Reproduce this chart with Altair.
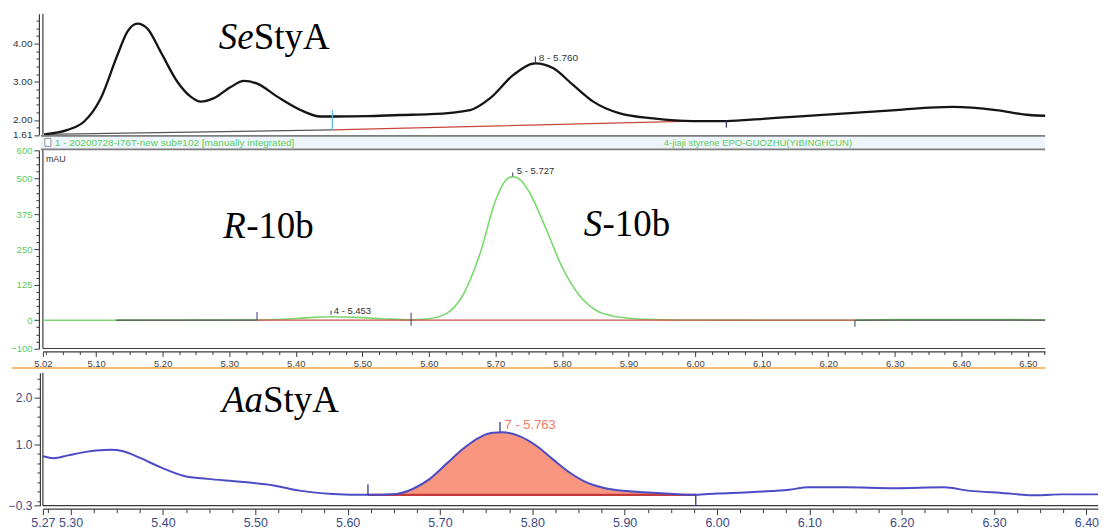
import altair as alt
import pandas as pd

# ---------------- SeStyA (top trace) ----------------
se_time = [5.022, 5.057, 5.082, 5.107, 5.132, 5.147, 5.162, 5.177, 5.197, 5.222, 5.242,
           5.257, 5.277, 5.302, 5.322, 5.342, 5.372, 5.407, 5.437, 5.457, 5.507, 5.557,
           5.602, 5.662, 5.692, 5.727, 5.760, 5.787, 5.817, 5.847, 5.887, 5.937, 5.997,
           6.047, 6.102, 6.152, 6.227, 6.302, 6.387, 6.452, 6.502, 6.526]
se_signal = [1.625, 1.74, 1.96, 2.57, 3.70, 4.31, 4.52, 4.39, 3.78, 3.00, 2.61,
             2.48, 2.57, 2.86, 3.02, 2.95, 2.61, 2.26, 2.09, 2.09, 2.10, 2.13,
             2.15, 2.26, 2.57, 3.18, 3.48, 3.35, 2.91, 2.48, 2.17, 2.04, 1.97,
             1.97, 2.03, 2.09, 2.17, 2.26, 2.34, 2.26, 2.13, 2.11]
se_dark_base_time = [5.022, 5.455]
se_dark_base_signal = [1.625, 1.74]
se_red_base_time = [5.455, 5.997, 6.047]
se_red_base_signal = [1.74, 1.97, 1.97]

# ---------------- R-10b / S-10b (middle trace, mAU) ----------------
b10_time = [5.02, 5.13, 5.342, 5.38, 5.42, 5.453, 5.49, 5.53, 5.573, 5.60, 5.626,
            5.651, 5.676, 5.701, 5.714, 5.726, 5.738, 5.751, 5.776, 5.80, 5.826,
            5.851, 5.876, 5.90, 5.926, 5.976, 6.10, 6.24, 6.30, 6.40, 6.48, 6.526]
b10_signal = [0, 0, 0.5, 3, 9, 12, 10, 5, 1, 5, 23,
              88, 229, 428, 490, 507, 495, 452, 323, 188, 88,
              35, 15, 7, 3, 0.5, 0, 0, 2, 2.5, 2, 0.5]
b10_dark_base_time = [5.13, 5.342, 6.24, 6.526]
b10_dark_base_group = ["a", "a", "b", "b"]
b10_red_base_time = [5.342, 6.24]

# ---------------- AaStyA (bottom trace) ----------------
aa_time = [5.27, 5.282, 5.297, 5.318, 5.343, 5.357, 5.376, 5.397, 5.423, 5.448, 5.484,
           5.52, 5.548, 5.584, 5.622, 5.653, 5.671, 5.689, 5.707, 5.725, 5.743, 5.757,
           5.768, 5.786, 5.804, 5.822, 5.84, 5.858, 5.879, 5.908, 5.944, 5.977, 6.00,
           6.03, 6.049, 6.078, 6.099, 6.139, 6.192, 6.246, 6.272, 6.308, 6.348, 6.373, 6.4126]
aa_signal = [0.75, 0.71, 0.77, 0.85, 0.89, 0.86, 0.71, 0.52, 0.33, 0.27, 0.21,
             0.13, 0.02, -0.05, -0.07, -0.05, 0.06, 0.27, 0.59, 0.91, 1.155, 1.25,
             1.26, 1.18, 0.98, 0.69, 0.41, 0.20, 0.07, 0.00, -0.04, -0.07, -0.04,
             -0.02, 0.00, 0.04, 0.09, 0.09, 0.07, 0.09, 0.02, -0.03, -0.08, -0.06, -0.06]
aa_peak_start = 5.622
aa_peak_end = 5.977
aa_base_level = -0.07

# ---------------- tick labels ----------------
p1_y_major = [4.0, 3.0, 2.0, 1.61]
p1_y_minor = [1.8, 2.2, 2.4, 2.6, 2.8, 3.2, 3.4, 3.6, 3.8, 4.2, 4.4, 4.6]
p2_y_major = [600, 500, 375, 250, 125, 0, -100]
p2_y_minor = [v for v in range(-75, 600, 25) if v not in p2_y_major]
p2_x_major = [5.02, 5.1, 5.2, 5.3, 5.4, 5.5, 5.6, 5.7, 5.8, 5.9, 6.0, 6.1, 6.2, 6.3, 6.4, 6.5]
p2_x_minor = [round(5.0 + 0.025 * i, 3) for i in range(1, 62)]
p3_y_major = [2.0, 1.0, -0.3]
p3_y_minor = [-0.2, 0.0, 0.2, 0.4, 0.6, 0.8, 1.2, 1.4, 1.6, 1.8, 2.2, 2.4]
p3_x_major = [5.27, 5.3, 5.4, 5.5, 5.6, 5.7, 5.8, 5.9, 6.0, 6.1, 6.2, 6.3, 6.4]
p3_x_minor = [round(5.25 + 0.025 * i, 3) for i in range(1, 47)]

# ---------------- geometry ----------------
W12, H1, HH, H2, GAP, W3, H3 = 1005, 121.5, 14.5, 198.7, 23.3, 1058, 133.3
AX = "#3a3a3a"
LBL_FONT = "Liberation Sans"
SERIF = "Liberation Serif"


def tick_axis(major, minor, fmt, color, size, big=5, small=3, offset=3):
    minor = [m for m in minor if all(abs(m - M) > 1e-9 for M in major)]
    arr = "[" + ",".join(repr(m) for m in major) + "]"
    test = f"indexof({arr}, datum.value) >= 0"
    return alt.Axis(
        values=list(major) + minor,
        labelExpr=f"{test} ? format(datum.value, '{fmt}') : ''",
        tickSize={"condition": {"test": test, "value": big}, "value": small},
        title=None, grid=False, offset=offset, labelOverlap=False, labelFlush=False,
        labelBound=False, zindex=2,
        domainColor=AX, tickColor=AX, domainWidth=1.2, tickWidth=1,
        labelColor=color, labelFont=LBL_FONT, labelFontSize=size, labelPadding=2,
    )


one = pd.DataFrame({"k": [0]})

# ================= Panel 1 =================
x1 = alt.X("t:Q", scale=alt.Scale(domain=[5.02, 6.526], nice=False, zero=False), axis=None)
y1 = alt.Y("v:Q", scale=alt.Scale(domain=[1.61, 4.78], nice=False, zero=False),
           axis=tick_axis(p1_y_major, p1_y_minor, ".2f", "#333333", 10, offset=4))

se_df = pd.DataFrame({"t": se_time, "v": se_signal})
se_dark = pd.DataFrame({"t": se_dark_base_time, "v": se_dark_base_signal})
se_red = pd.DataFrame({"t": se_red_base_time, "v": se_red_base_signal})
se_ticks = pd.DataFrame({"t": [5.455, 6.047], "v": [1.74, 1.80], "v2": [2.26, 1.98],
                         "c": ["#55B8E6", "#3A3A6A"]})
se_peak_tick = pd.DataFrame({"t": [5.760], "v": [3.49], "v2": [3.66]})
se_label = pd.DataFrame({"t": [5.765], "v": [3.554], "txt": ["8 - 5.760"]})
se_title = pd.DataFrame({"t": [5.2843], "v": [3.85]})

p1 = alt.layer(
    alt.Chart(one).mark_rule(color=AX, strokeWidth=1.2).encode(
        x=alt.value(0), y=alt.value(0), y2=alt.value(H1)),
    alt.Chart(se_dark).mark_line(color="#555555", strokeWidth=1.2).encode(x=x1, y=y1),
    alt.Chart(se_red).mark_line(color="#C8453C", strokeWidth=1.2).encode(x=x1, y=y1),
    alt.Chart(se_df).mark_line(color="#151515", strokeWidth=2.3, interpolate="monotone").encode(x=x1, y=y1),
    alt.Chart(se_ticks).mark_rule(strokeWidth=1.3).encode(
        x=x1, y=y1, y2="v2:Q", color=alt.Color("c:N", scale=None)),
    alt.Chart(se_peak_tick).mark_rule(color="#333333", strokeWidth=1).encode(x=x1, y=y1, y2="v2:Q"),
    alt.Chart(se_label).mark_text(align="left", baseline="alphabetic", font=LBL_FONT,
                                  fontSize=10, color="#333333").encode(x=x1, y=y1, text="txt:N"),
    alt.Chart(se_title).mark_text(align="left", baseline="alphabetic", font=SERIF, fontSize=37,
                                  fontStyle="italic", color="black", text="Se").encode(x=x1, y=y1),
    alt.Chart(se_title).mark_text(align="left", baseline="alphabetic", font=SERIF, fontSize=37,
                                  color="black", text="StyA", dx=35).encode(x=x1, y=y1),
).properties(width=W12, height=H1)

# ================= Header bar =================
header = alt.layer(
    alt.Chart(one).mark_rect(color="#EEF4FB").encode(
        x=alt.value(-2), x2=alt.value(W12), y=alt.value(0), y2=alt.value(HH)),
    alt.Chart(one).mark_rule(color="#7d7d7d", strokeWidth=1.6).encode(
        x=alt.value(-2), x2=alt.value(W12), y=alt.value(0.5)),
    alt.Chart(one).mark_rule(color="#7d7d7d", strokeWidth=1.6).encode(
        x=alt.value(-2), x2=alt.value(W12), y=alt.value(HH - 0.5)),
    alt.Chart(one).mark_rect(fill="white", stroke="#777777", strokeWidth=0.8).encode(
        x=alt.value(2), x2=alt.value(8), y=alt.value(3), y2=alt.value(11)),
    alt.Chart(one).mark_text(align="left", baseline="alphabetic", font=LBL_FONT, fontSize=10,
                             color="#5DCF5D",
                             text="1 - 20200728-I76T-new sub#102 [manually integrated]").encode(
        x=alt.value(12), y=alt.value(11)),
    alt.Chart(one).mark_text(align="center", baseline="alphabetic", font=LBL_FONT, fontSize=9.5,
                             color="#5DCF5D",
                             text="4-jiaji styrene EPO-GUOZHU(YIBINGHCUN)").encode(
        x=alt.value(717), y=alt.value(11)),
).properties(width=W12, height=HH)

# ================= Panel 2 =================
x2 = alt.X("t:Q", scale=alt.Scale(domain=[5.02, 6.526], nice=False, zero=False),
           axis=tick_axis(p2_x_major, p2_x_minor, ".2f", "#444444", 9.5, big=5, small=3, offset=3))
y2 = alt.Y("v:Q", scale=alt.Scale(domain=[-100, 600], nice=False, zero=False),
           axis=tick_axis(p2_y_major, p2_y_minor, "d", "#5CC95C", 9.5, offset=4))

b10_df = pd.DataFrame({"t": b10_time, "v": b10_signal})
b10_dark = pd.DataFrame({"t": b10_dark_base_time, "v": [0] * 4, "g": b10_dark_base_group})
b10_red = pd.DataFrame({"t": b10_red_base_time, "v": [0, 0]})
b10_ticks = pd.DataFrame({"t": [5.3417, 5.5732, 6.2402, 5.453, 5.726],
                          "v": [0, -20, -23, 19, 508], "v2": [29, 26, 0, 34, 522]})
b10_labels = pd.DataFrame({"t": [5.457, 5.7321], "v": [22, 517], "txt": ["4 - 5.453", "5 - 5.727"]})
b10_mau = pd.DataFrame({"t": [5.0245], "v": [557.7]})
r_title = pd.DataFrame({"t": [5.2909], "v": [290]})
s_title = pd.DataFrame({"t": [5.8325], "v": [297]})

p2 = alt.layer(
    alt.Chart(one).mark_rule(color=AX, strokeWidth=1.2).encode(
        x=alt.value(0), y=alt.value(0), y2=alt.value(H2)),
    alt.Chart(one).mark_rule(color=AX, strokeWidth=1.2).encode(
        x=alt.value(0), x2=alt.value(W12), y=alt.value(H2)),
    alt.Chart(b10_df).mark_line(color="#7AD96E", strokeWidth=1.6, interpolate="monotone").encode(x=x2, y=y2),
    alt.Chart(b10_dark).mark_line(color="#4a4a4a", strokeWidth=1.2).encode(x=x2, y=y2, detail="g:N"),
    alt.Chart(b10_red).mark_line(color="#CC5048", strokeWidth=1.2).encode(x=x2, y=y2),
    alt.Chart(b10_ticks).mark_rule(color="#4A4A7A", strokeWidth=1.1).encode(x=x2, y=y2, y2="v2:Q"),
    alt.Chart(b10_labels).mark_text(align="left", baseline="alphabetic", font=LBL_FONT,
                                    fontSize=9.5, color="#333333").encode(x=x2, y=y2, text="txt:N"),
    alt.Chart(b10_mau).mark_text(align="left", baseline="alphabetic", font=LBL_FONT,
                                 fontSize=9, color="#333333", text="mAU").encode(x=x2, y=y2),
    alt.Chart(r_title).mark_text(align="left", baseline="alphabetic", font=SERIF, fontSize=37,
                                 fontStyle="italic", color="black", text="R").encode(x=x2, y=y2),
    alt.Chart(r_title).mark_text(align="left", baseline="alphabetic", font=SERIF, fontSize=37,
                                 color="black", text="-10b", dx=23).encode(x=x2, y=y2),
    alt.Chart(s_title).mark_text(align="left", baseline="alphabetic", font=SERIF, fontSize=37,
                                 fontStyle="italic", color="black", text="S").encode(x=x2, y=y2),
    alt.Chart(s_title).mark_text(align="left", baseline="alphabetic", font=SERIF, fontSize=37,
                                 color="black", text="-10b", dx=19).encode(x=x2, y=y2),
).properties(width=W12, height=H2)

# ================= Spacer with orange separator =================
spacer = alt.Chart(one).mark_rule(color="#F0A34A", strokeWidth=1.6).encode(
    x=alt.value(-31), x2=alt.value(W12), y=alt.value(19.3)
).properties(width=W12, height=GAP)

# ================= Panel 3 =================
x3 = alt.X("t:Q", scale=alt.Scale(domain=[5.27, 6.4126], nice=False, zero=False),
           axis=tick_axis(p3_x_major, p3_x_minor, ".2f", "#3C4A86", 12.5, big=6, small=4, offset=3))
y3 = alt.Y("v:Q", scale=alt.Scale(domain=[-0.3, 2.53], nice=False, zero=False),
           axis=tick_axis(p3_y_major, p3_y_minor, ".1f", "#3C4A86", 12, big=6, small=3, offset=3))

aa_df = pd.DataFrame({"t": aa_time, "v": aa_signal})
aa_base = pd.DataFrame({"t": [aa_peak_start, aa_peak_end], "v": [aa_base_level, aa_base_level]})
aa_ticks = pd.DataFrame({"t": [5.622, 5.977, 5.765], "v": [-0.08, -0.3, 1.26], "v2": [0.155, -0.075, 1.483]})
aa_label = pd.DataFrame({"t": [5.770], "v": [1.341], "txt": ["7 - 5.763"]})
aa_title = pd.DataFrame({"t": [5.464], "v": [1.702]})

p3 = alt.layer(
    alt.Chart(one).mark_rule(color=AX, strokeWidth=1.2).encode(
        x=alt.value(0), y=alt.value(0), y2=alt.value(H3)),
    alt.Chart(one).mark_rule(color=AX, strokeWidth=1.2).encode(
        x=alt.value(0), x2=alt.value(W3), y=alt.value(H3)),
    alt.Chart(aa_df).transform_filter(
        f"datum.t >= {aa_peak_start} && datum.t <= {aa_peak_end}"
    ).mark_area(color="#F9967F", interpolate="monotone").encode(
        x=x3, y=y3, y2=alt.datum(aa_base_level)),
    alt.Chart(aa_base).mark_line(color="#C43A3A", strokeWidth=2.2).encode(x=x3, y=y3),
    alt.Chart(aa_df).mark_line(color="#4B4BC6", strokeWidth=2, interpolate="monotone").encode(x=x3, y=y3),
    alt.Chart(aa_ticks).mark_rule(color="#3535A0", strokeWidth=1.3).encode(x=x3, y=y3, y2="v2:Q"),
    alt.Chart(aa_label).mark_text(align="left", baseline="alphabetic", font=LBL_FONT,
                                  fontSize=13, color="#EE7B62").encode(x=x3, y=y3, text="txt:N"),
    alt.Chart(aa_title).mark_text(align="left", baseline="alphabetic", font=SERIF, fontSize=37,
                                  fontStyle="italic", color="black", text="Aa").encode(x=x3, y=y3),
    alt.Chart(aa_title).mark_text(align="left", baseline="alphabetic", font=SERIF, fontSize=37,
                                  color="black", text="StyA", dx=41).encode(x=x3, y=y3),
).properties(width=W3, height=H3)

chart = alt.vconcat(p1, header, p2, spacer, p3, spacing=0, bounds="flush").properties(
    padding={"left": 0, "top": 4, "right": 0, "bottom": 0},
    background="white",
).configure_view(stroke=None)

chart.save("out.html", embed_options={"renderer": "svg", "actions": False})
